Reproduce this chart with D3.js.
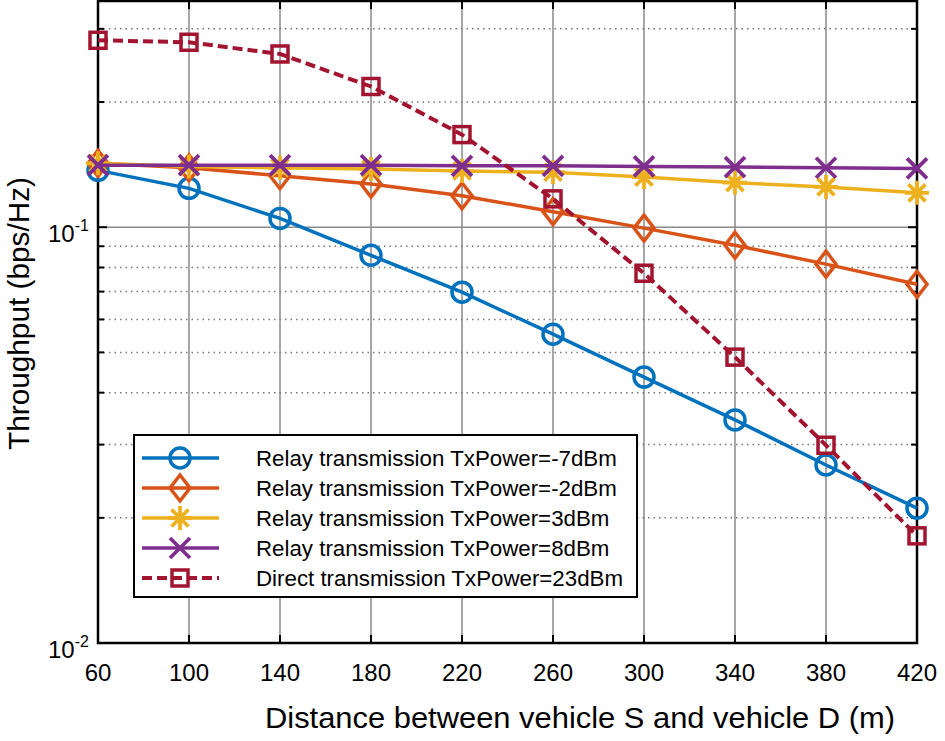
<!DOCTYPE html>
<html><head><meta charset="utf-8">
<script src="https://cdn.jsdelivr.net/npm/d3@7"></script>
<style>body{margin:0;background:#fff}svg{display:block;font-family:"Liberation Sans",Arial,sans-serif}</style>
</head><body><svg id="c" width="945" height="741"></svg>
<script>
const distances = [60,100,140,180,220,260,300,340,380,420];
const relayM7 = [0.137,0.124,0.105,0.0856,0.0698,0.0553,0.0436,0.0344,0.0268,0.0211];
const relayM2 = [0.1425,0.139,0.133,0.127,0.119,0.109,0.0995,0.0905,0.0815,0.0729];
const relay3 = [0.1425,0.140,0.139,0.138,0.1365,0.1356,0.132,0.128,0.125,0.121];
const relay8 = [0.141,0.141,0.141,0.141,0.1405,0.1405,0.140,0.1395,0.139,0.1385];
const direct23 = [0.2816,0.2785,0.261,0.218,0.167,0.117,0.0775,0.0487,0.0299,0.0181];
const seriesNames = ["Relay transmission TxPower=-7dBm","Relay transmission TxPower=-2dBm","Relay transmission TxPower=3dBm","Relay transmission TxPower=8dBm","Direct transmission TxPower=23dBm"];
const xTicks = [60,100,140,180,220,260,300,340,380,420];
const yMajor = [0.01,0.1];
const yMinor = [0.02,0.03,0.04,0.05,0.06,0.07,0.08,0.09,0.2,0.3];

const colors = ["#0072BD","#D95319","#EDB120","#7E2F8E","#A2142F"];
const markers = ["circle","diamond","star","x","square"];
const series = [relayM7,relayM2,relay3,relay8,direct23];

const L=98,R=917,T=1,B=643;
const x = d3.scaleLinear().domain([60,420]).range([L,R]);
const y = d3.scaleLog().domain([0.01,0.35]).range([B,T]);
const svg = d3.select("#c");

// grid
const g = svg.append("g");
g.selectAll(".vg").data(xTicks.slice(1,-1)).join("line")
 .attr("x1",d=>x(d)).attr("x2",d=>x(d)).attr("y1",T).attr("y2",B)
 .attr("stroke","#8a8a8a").attr("stroke-width",1.5);
g.selectAll(".mg").data(yMinor).join("line")
 .attr("x1",L).attr("x2",R).attr("y1",d=>y(d)).attr("y2",d=>y(d))
 .attr("stroke","#777").attr("stroke-width",1.5).attr("stroke-dasharray","1.5,4");
g.selectAll(".Mg").data([0.1]).join("line")
 .attr("x1",L).attr("x2",R).attr("y1",d=>y(d)).attr("y2",d=>y(d))
 .attr("stroke","#8a8a8a").attr("stroke-width",1.5);

// ticks inside
const tk = svg.append("g").attr("stroke","#000").attr("stroke-width",2);
xTicks.forEach(v=>{
  tk.append("line").attr("x1",x(v)).attr("x2",x(v)).attr("y1",B).attr("y2",B-8);
  tk.append("line").attr("x1",x(v)).attr("x2",x(v)).attr("y1",T).attr("y2",T+8);
});
yMajor.concat(yMinor).forEach(v=>{
  const len = yMajor.includes(v)?9:6;
  tk.append("line").attr("x1",L).attr("x2",L+len).attr("y1",y(v)).attr("y2",y(v));
  tk.append("line").attr("x1",R).attr("x2",R-len).attr("y1",y(v)).attr("y2",y(v));
});
// box
svg.append("rect").attr("x",L).attr("y",T).attr("width",R-L).attr("height",B-T)
 .attr("fill","none").attr("stroke","#000").attr("stroke-width",2.5);

// tick labels
svg.append("g").selectAll("text").data(xTicks).join("text")
 .attr("x",d=>x(d)).attr("y",681).attr("text-anchor","middle")
 .attr("font-size",24).attr("fill","#000").text(d=>d);
yMajor.forEach(v=>{
  const t = svg.append("text").attr("x",48).attr("y",y(v)+15).attr("font-size",24).attr("fill","#000");
  t.append("tspan").text("10");
  t.append("tspan").attr("dy",-11).attr("font-size",16).text("-"+Math.round(-Math.log10(v)));
});

// axis labels
svg.append("text").attr("x",265).attr("y",728)
 .attr("font-size",29).attr("fill","#000").attr("textLength",630).attr("lengthAdjust","spacingAndGlyphs")
 .text("Distance between vehicle S and vehicle D (m)");
svg.append("text").attr("transform","translate(29,450) rotate(-90)")
 .attr("font-size",29).attr("fill","#000").attr("textLength",273).attr("lengthAdjust","spacingAndGlyphs")
 .text("Throughput (bps/Hz)");

function drawMarker(sel, type, color){
  const sw=3.5;
  if(type==="circle") sel.append("circle").attr("r",10).attr("fill","none").attr("stroke",color).attr("stroke-width",sw);
  else if(type==="diamond") sel.append("path").attr("d","M0,-13L10,0L0,13L-10,0Z").attr("fill","none").attr("stroke",color).attr("stroke-width",sw);
  else if(type==="square") sel.append("rect").attr("x",-8).attr("y",-8).attr("width",16).attr("height",16).attr("fill","none").attr("stroke",color).attr("stroke-width",sw);
  else if(type==="x") sel.append("path").attr("d","M-10,-10L10,10M-10,10L10,-10").attr("stroke",color).attr("stroke-width",3.8);
  else if(type==="star") sel.append("path").attr("d","M0,-12L0,12M-12,0L12,0M-8.5,-8.5L8.5,8.5M-8.5,8.5L8.5,-8.5").attr("stroke",color).attr("stroke-width",3.8);
}

const line = d3.line().x((d,i)=>x(distances[i])).y(d=>y(d));
series.forEach((s,k)=>{
  const sg = svg.append("g");
  sg.append("path").attr("d",line(s)).attr("fill","none").attr("stroke",colors[k])
    .attr("stroke-width",k===4?4:3.5).attr("stroke-dasharray",k===4?"10,5":null);
  s.forEach((v,i)=>{
    drawMarker(sg.append("g").attr("transform",`translate(${x(distances[i])},${y(v)})`),markers[k],colors[k]);
  });
});

// legend
const lg = svg.append("g");
lg.append("rect").attr("x",134).attr("y",435).attr("width",503).attr("height",162)
  .attr("fill","#fff").attr("stroke","#000").attr("stroke-width",2);
seriesNames.forEach((n,k)=>{
  const yy = 458 + k*30;
  lg.append("line").attr("x1",142).attr("x2",219).attr("y1",yy).attr("y2",yy)
    .attr("stroke",colors[k]).attr("stroke-width",k===4?4:3.5).attr("stroke-dasharray",k===4?"10,5":null);
  drawMarker(lg.append("g").attr("transform",`translate(180,${yy})`),markers[k],colors[k]);
  lg.append("text").attr("x",256).attr("y",yy+8).attr("font-size",22.3).attr("fill","#000").text(n);
});
</script></body></html>
